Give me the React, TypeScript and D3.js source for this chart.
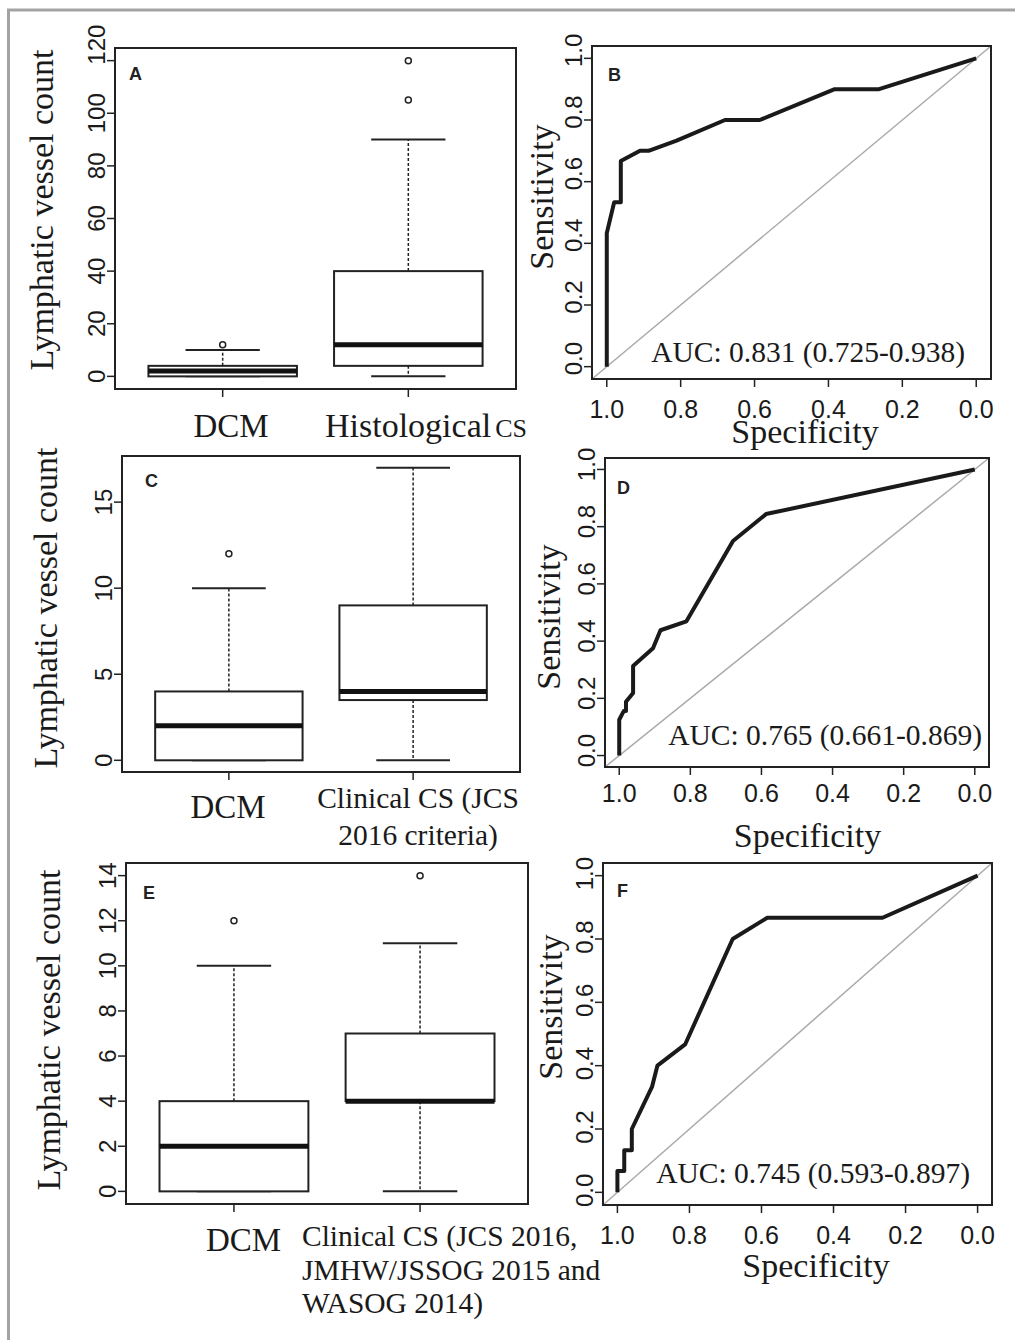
import React from "react";
import * as d3 from "d3";

const SERIF = "'Liberation Serif', 'Times New Roman', serif";
const SANS = "'Liberation Sans', Arial, Helvetica, sans-serif";

// box plot summaries: [min, q1, median, q3, upper whisker]
const boxA = [[0, 0, 2, 4, 10], [0, 4, 12, 40, 90]];
const outA = [[12], [105, 120]];
const ticksA = [0, 20, 40, 60, 80, 100, 120];

const boxC = [[0, 0, 2, 4, 10], [0, 3.5, 4, 9, 17]];
const outC = [[12], []];
const ticksC = [0, 5, 10, 15];

const boxE = [[0, 0, 2, 4, 10], [0, 4, 4, 7, 11]];
const outE = [[12], [14]];
const ticksE = [0, 2, 4, 6, 8, 10, 12, 14];

// ROC curves
const specB = [1, 1, 0.98, 0.962, 0.962, 0.91, 0.887, 0.811, 0.68, 0.586, 0.383, 0.263, 0];
const sensB = [0, 0.433, 0.533, 0.533, 0.667, 0.7, 0.7, 0.733, 0.8, 0.8, 0.9, 0.9, 1];

const specD = [1, 1, 0.987, 0.981, 0.981, 0.961, 0.961, 0.905, 0.884, 0.811, 0.68, 0.587, 0];
const sensD = [0, 0.125, 0.156, 0.156, 0.188, 0.219, 0.313, 0.375, 0.438, 0.469, 0.75, 0.844, 1];

const specF = [1, 1, 0.981, 0.981, 0.96, 0.96, 0.904, 0.889, 0.812, 0.68, 0.584, 0.264, 0];
const sensF = [0, 0.067, 0.067, 0.133, 0.133, 0.2, 0.333, 0.4, 0.467, 0.8, 0.867, 0.867, 1];

const rocTicks = [0, 0.2, 0.4, 0.6, 0.8, 1.0];
const aucB = "AUC: 0.831 (0.725-0.938)";
const aucD = "AUC: 0.765 (0.661-0.869)";
const aucF = "AUC: 0.745 (0.593-0.897)";

const BoxPanel = (props: any) => {
  const g = props.geo;
  const x = d3.scaleLinear().domain([0.42, 2.58]).range([g.x0, g.x1]);
  const pad = props.ymax * 0.04;
  const y = d3.scaleLinear().domain([-pad, props.ymax + pad]).range([g.y1, g.y0]);
  const shift = props.tickShift || {};

  return (
    <g>
      {props.stats.map((s: number[], i: number) => {
        const c = i + 1;
        return (
          <g key={i}>
            <line x1={x(c)} x2={x(c)} y1={y(s[3])} y2={y(s[4])} stroke="#222" strokeWidth={1.5} strokeDasharray="3,2" />
            <line x1={x(c)} x2={x(c)} y1={y(s[1])} y2={y(s[0])} stroke="#222" strokeWidth={1.5} strokeDasharray="3,2" />
            <line x1={x(c - 0.2)} x2={x(c + 0.2)} y1={y(s[4])} y2={y(s[4])} stroke="#222" strokeWidth={2} />
            <line x1={x(c - 0.2)} x2={x(c + 0.2)} y1={y(s[0])} y2={y(s[0])} stroke="#222" strokeWidth={2} />
            <rect x={x(c - 0.4)} width={x(c + 0.4) - x(c - 0.4)} y={y(s[3])} height={y(s[1]) - y(s[3])} fill="white" stroke="#222" strokeWidth={2} />
            <line x1={x(c - 0.4)} x2={x(c + 0.4)} y1={y(s[2])} y2={y(s[2])} stroke="#111" strokeWidth={5} />
            {props.outliers[i].map((o: number, j: number) => (
              <circle key={j} cx={x(c)} cy={y(o)} r={3} fill="none" stroke="#222" strokeWidth={1.5} />
            ))}
          </g>
        );
      })}
      <rect x={g.x0} y={g.y0} width={g.x1 - g.x0} height={g.y1 - g.y0} fill="none" stroke="#222" strokeWidth={2} />
      {props.ticks.map((t: number) => (
        <g key={t}>
          <line x1={g.x0 - 8} x2={g.x0} y1={y(t)} y2={y(t)} stroke="#222" strokeWidth={1.5} />
          <text transform={`translate(${g.x0 - 10},${y(t) + (shift[t] || 0)}) rotate(-90)`} textAnchor="middle" fontFamily={SANS} fontSize={24} fill="#1a1a1a">{t}</text>
        </g>
      ))}
      {[1, 2].map((c) => (
        <line key={c} x1={x(c)} x2={x(c)} y1={g.y1} y2={g.y1 + 8} stroke="#222" strokeWidth={1.5} />
      ))}
      <text transform={`translate(${props.title.x},${props.title.y}) rotate(-90)`} textAnchor="middle" fontFamily={SERIF} fontSize={34} fill="#1a1a1a">Lymphatic vessel count</text>
      <text x={props.letter.x} y={props.letter.y} fontFamily={SANS} fontWeight="bold" fontSize={18} fill="#222">{props.letterText}</text>
      {props.children}
    </g>
  );
};

const RocPanel = (props: any) => {
  const g = props.geo;
  const x = d3.scaleLinear().domain([1.04, -0.04]).range([g.x0, g.x1]);
  const y = d3.scaleLinear().domain([-0.04, 1.04]).range([g.y1, g.y0]);
  const line = d3.line<number>().x((d) => x(d)).y((d, i) => y(props.sens[i]));
  const diag = [1.04, -0.04];

  return (
    <g>
      <line x1={x(diag[0])} y1={y(1 - diag[0])} x2={x(diag[1])} y2={y(1 - diag[1])} stroke="#aaa" strokeWidth={1.5} />
      <path d={line(props.spec) || ""} fill="none" stroke="#1a1a1a" strokeWidth={4} strokeLinejoin="round" />
      <rect x={g.x0} y={g.y0} width={g.x1 - g.x0} height={g.y1 - g.y0} fill="none" stroke="#222" strokeWidth={2} />
      {rocTicks.map((t) => (
        <g key={t}>
          <line x1={g.x0 - 8} x2={g.x0} y1={y(t)} y2={y(t)} stroke="#222" strokeWidth={1.5} />
          <text transform={`translate(${g.x0 - 10},${y(t) + (props.yShift || 0)}) rotate(-90)`} textAnchor="middle" fontFamily={SANS} fontSize={24} fill="#1a1a1a">{t.toFixed(1)}</text>
          <line x1={x(t)} x2={x(t)} y1={g.y1} y2={g.y1 + 8} stroke="#222" strokeWidth={1.5} />
          <text x={x(t)} y={props.tickBase} textAnchor="middle" fontFamily={SANS} fontSize={25} fill="#1a1a1a">{t.toFixed(1)}</text>
        </g>
      ))}
      <text transform={`translate(${props.title.x},${props.title.y}) rotate(-90)`} textAnchor="middle" fontFamily={SERIF} fontSize={34} fill="#1a1a1a">Sensitivity</text>
      <text x={props.xTitle.x} y={props.xTitle.y} textAnchor="middle" fontFamily={SERIF} fontSize={34} fill="#1a1a1a">Specificity</text>
      <text x={props.auc.x} y={props.auc.y} textAnchor="end" fontFamily={SERIF} fontSize={29.5} fill="#1a1a1a">{props.aucText}</text>
      <text x={props.letter.x} y={props.letter.y} fontFamily={SANS} fontWeight="bold" fontSize={18} fill="#222">{props.letterText}</text>
    </g>
  );
};

const App = () => {
  return (
    <svg width={1015} height={1340} style={{ position: "absolute", left: 0, top: 0, background: "white" }}>
      <line x1={7} x2={1015} y1={10} y2={10} stroke="#a3a3a3" strokeWidth={3} />
      <line x1={8.5} x2={8.5} y1={9} y2={1340} stroke="#a3a3a3" strokeWidth={3} />

      <BoxPanel geo={{ x0: 115, x1: 516, y0: 48, y1: 389 }} stats={boxA} outliers={outA} ymax={120} ticks={ticksA}
        tickShift={{ 120: -16 }} title={{ x: 53, y: 210 }} letter={{ x: 129, y: 80 }} letterText="A">
        <text x={231} y={437} textAnchor="middle" fontFamily={SERIF} fontSize={33} fill="#1a1a1a">DCM</text>
        <text x={325} y={437} fontFamily={SERIF} fontSize={34} fill="#1a1a1a">Histological<tspan fontSize={26} dx={4}>CS</tspan></text>
      </BoxPanel>

      <RocPanel geo={{ x0: 592, x1: 991, y0: 46, y1: 379 }} spec={specB} sens={sensB} yShift={-8} tickBase={418}
        title={{ x: 553, y: 197 }} xTitle={{ x: 805, y: 443 }} auc={{ x: 965, y: 362 }} aucText={aucB}
        letter={{ x: 608, y: 81 }} letterText="B" />

      <BoxPanel geo={{ x0: 122, x1: 520, y0: 456, y1: 772 }} stats={boxC} outliers={outC} ymax={17} ticks={ticksC}
        title={{ x: 57, y: 608 }} letter={{ x: 145, y: 487 }} letterText="C">
        <text x={228} y={818} textAnchor="middle" fontFamily={SERIF} fontSize={33} fill="#1a1a1a">DCM</text>
        <text x={418} y={808} textAnchor="middle" fontFamily={SERIF} fontSize={29.5} fill="#1a1a1a">Clinical CS (JCS</text>
        <text x={418} y={845} textAnchor="middle" fontFamily={SERIF} fontSize={29.5} fill="#1a1a1a">2016 criteria)</text>
      </BoxPanel>

      <RocPanel geo={{ x0: 605, x1: 989, y0: 458, y1: 767 }} spec={specD} sens={sensD} yShift={-5} tickBase={802}
        title={{ x: 560, y: 617 }} xTitle={{ x: 807.5, y: 847 }} auc={{ x: 982, y: 745 }} aucText={aucD}
        letter={{ x: 617, y: 494 }} letterText="D" />

      <BoxPanel geo={{ x0: 126, x1: 528, y0: 863, y1: 1204 }} stats={boxE} outliers={outE} ymax={14} ticks={ticksE}
        title={{ x: 60, y: 1030 }} letter={{ x: 143, y: 899 }} letterText="E">
        <text x={243.5} y={1251} textAnchor="middle" fontFamily={SERIF} fontSize={33} fill="#1a1a1a">DCM</text>
        <text x={302} y={1246} fontFamily={SERIF} fontSize={29.5} fill="#1a1a1a">Clinical CS (JCS 2016,</text>
        <text x={302} y={1280} fontFamily={SERIF} fontSize={29.5} fill="#1a1a1a">JMHW/JSSOG 2015 and</text>
        <text x={302} y={1313} fontFamily={SERIF} fontSize={29.5} fill="#1a1a1a">WASOG 2014)</text>
      </BoxPanel>

      <RocPanel geo={{ x0: 603, x1: 992, y0: 863, y1: 1205 }} spec={specF} sens={sensF} yShift={-2} tickBase={1244}
        title={{ x: 562, y: 1007 }} xTitle={{ x: 816, y: 1277 }} auc={{ x: 970, y: 1183 }} aucText={aucF}
        letter={{ x: 617, y: 897 }} letterText="F" />
    </svg>
  );
};

export default App;
